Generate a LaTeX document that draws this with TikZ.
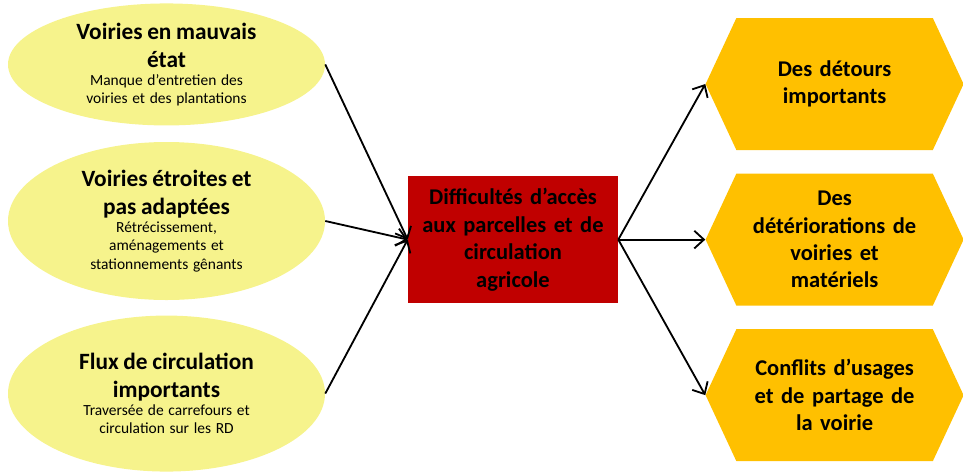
\documentclass[tikz,border=0pt]{standalone}
\usepackage{fontspec}
\setmainfont{Carlito}
\usetikzlibrary{arrows.meta,positioning,shapes.geometric,shapes.symbols}
\definecolor{causefill}{HTML}{F6F38C}
\definecolor{centrefill}{HTML}{C00000}
\definecolor{effetfill}{HTML}{FFC000}
\newcommand{\titre}{\bfseries\fontsize{16}{19.5}\selectfont}
\newcommand{\titrecause}{\bfseries\fontsize{16.6}{19.8}\selectfont}
\newcommand{\detail}{\fontsize{11}{13}\selectfont}

\begin{document}
\begin{tikzpicture}[
		every node/.style={align=center},
		cause/.style={ellipse, fill=causefill, minimum width=79.25mm,
				text width=52mm, inner xsep=0pt, inner ysep=-1.2mm},
		centre/.style={rectangle, fill=centrefill, minimum width=52.5mm,
				minimum height=31.75mm, text width=50mm, inner sep=0pt,
				font=\titre},
		effet/.style={signal, signal to=west and east, signal pointer angle=130,
				fill=effetfill, minimum width=64.5mm, minimum height=33mm,
				text width=46mm, inner sep=0pt, font=\titre},
		arr/.style={-{Straight Barb[length=2.4mm, width=4.4mm]}, line width=1.3pt},
		]
		\useasboundingbox (0,0) rectangle (24.075,-11.825);

		% Causes
		\node[cause, minimum height=39.5mm] (etroites) at (4.1625,-5.525)
		{{\titrecause Voiries étroites et\\pas adaptées\par}
			{\detail Rétrécissement,\\aménagements et\\stationnements gênants\par}};
		\node[cause, minimum height=30.5mm, above=4mm of etroites] (mauvais)
		{{\titrecause Voiries en mauvais\\état\par}
			{\detail Manque d’entretien des\\voiries et des plantations\par}};
		\node[cause, minimum height=39mm, below=3.75mm of etroites] (flux)
		{{\titrecause Flux de circulation\\importants\par}
			{\detail Traversée de carrefours et\\circulation sur les RD\par}};

		% Problème central
		\node[centre] (acces) at (12.825,-5.99)
		{Difficultés d’accès\\aux parcelles et de\\circulation\\agricole};

		% Conséquences
		\node[effet, right=21.75mm of acces] (degats)
		{Des\\détériorations de\\voiries et\\matériels};
		\node[effet, above=5.75mm of degats] (detours) {Des détours\\importants};
		\node[effet, below=5.75mm of degats] (conflits)
		{Conflits d’usages\\et de partage de\\la voirie};

		% Flèches
		\draw[arr] (mauvais.east)  -- (acces.west);
		\draw[arr] (etroites.east) -- (acces.west);
		\draw[arr] (flux.east)     -- (acces.west);
		\draw[arr] (acces.east) -- (detours.west);
		\draw[arr] (acces.east) -- (degats.west);
		\draw[arr] (acces.east) -- (conflits.west);

	\end{tikzpicture}
\end{document}
